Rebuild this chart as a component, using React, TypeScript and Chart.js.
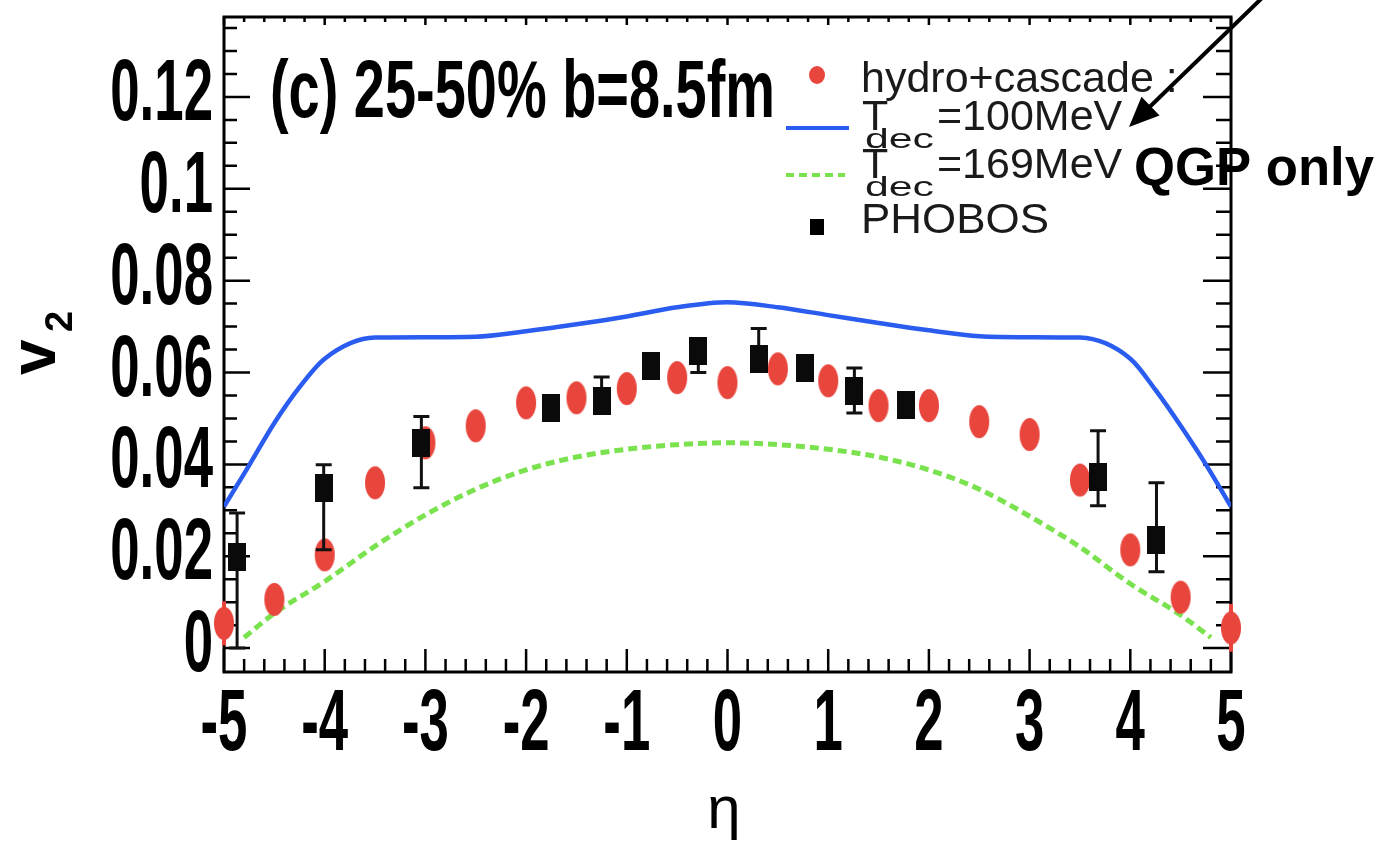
import React, { useEffect, useRef } from 'react';
import { Chart, registerables } from 'chart.js';

Chart.register(...registerables);

// ---------- data ----------
const etaTdec100 = [-5, -4.75, -4.5, -4.25, -4, -3.5, -3, -2.5, -2, -1.5, -1, -0.5, 0, 0.5, 1, 1.5, 2, 2.5, 3, 3.5, 4, 4.25, 4.5, 4.75, 5];
const v2Tdec100 = [0.0308, 0.0398, 0.0490, 0.0568, 0.0630, 0.0676, 0.0677, 0.0678, 0.0690, 0.0705, 0.0722, 0.0742, 0.0753, 0.0742, 0.0725, 0.0708, 0.0692, 0.0679, 0.0677, 0.0676, 0.0630, 0.0562, 0.0484, 0.0400, 0.0308];

const etaTdec169 = [-4.8, -4.5, -4, -3.5, -3, -2.5, -2, -1.5, -1, -0.5, 0, 0.5, 1, 1.5, 2, 2.5, 3, 3.5, 4, 4.5, 4.8];
const v2Tdec169 = [0.0023, 0.0076, 0.0145, 0.0222, 0.0290, 0.0346, 0.0388, 0.0416, 0.0433, 0.0443, 0.0447, 0.0443, 0.0433, 0.0416, 0.0388, 0.0346, 0.0287, 0.0220, 0.0140, 0.0072, 0.0023];

const etaHydro = [-5, -4.5, -4, -3.5, -3, -2.5, -2, -1.5, -1, -0.5, 0, 0.5, 1, 1.5, 2, 2.5, 3, 3.5, 4, 4.5, 5];
const v2Hydro = [0.0054, 0.0106, 0.0203, 0.0360, 0.0447, 0.0484, 0.0534, 0.0545, 0.0565, 0.0589, 0.0578, 0.0608, 0.0582, 0.0528, 0.0528, 0.0493, 0.0465, 0.0366, 0.0214, 0.0111, 0.0044];
const v2HydroErr = [0.0048, 0, 0, 0, 0, 0, 0, 0, 0, 0, 0, 0, 0, 0, 0, 0, 0, 0, 0, 0, 0.0052];

const etaPhobos = [-4.87, -4.01, -3.04, -1.75, -1.25, -0.755, -0.29, 0.31, 0.765, 1.26, 1.77, 3.68, 4.26];
const v2Phobos = [0.0199, 0.0349, 0.0447, 0.0523, 0.0537, 0.0614, 0.0647, 0.0630, 0.0610, 0.0560, 0.0530, 0.0373, 0.0236];
const v2PhobosHigh = [0.0294, 0.0399, 0.0504, 0.0523, 0.0590, 0.0614, 0.0647, 0.0696, 0.0610, 0.0610, 0.0530, 0.0473, 0.0360];
const v2PhobosLow = [0.0000, 0.0214, 0.0349, 0.0523, 0.0537, 0.0614, 0.0600, 0.0630, 0.0610, 0.0512, 0.0530, 0.0310, 0.0166];

const xTickValues = [-5, -4, -3, -2, -1, 0, 1, 2, 3, 4, 5];
const yTickValues = [0, 0.02, 0.04, 0.06, 0.08, 0.1, 0.12];

const X_MIN = -5;
const X_MAX = 5;
const Y_MIN = -0.0052;
const Y_MAX = 0.1374;

const RED = '#e8453c';
const BLUE = '#2a5cf0';
const GREEN = '#7be24f';
const SANS = "'Liberation Sans', Arial, Helvetica, sans-serif";
const TICK_FONT = `bold 88px ${SANS}`;
const TICK_SQUEEZE = 0.6;

function makeEllipse(rx: number, ry: number, color: string) {
  const c = document.createElement('canvas');
  c.width = Math.ceil(rx * 2 + 2);
  c.height = Math.ceil(ry * 2 + 2);
  const g = c.getContext('2d')!;
  g.fillStyle = color;
  g.beginPath();
  g.ellipse(c.width / 2, c.height / 2, rx, ry, 0, 0, Math.PI * 2);
  g.fill();
  return c;
}

function makeRect(w: number, h: number, color: string) {
  const c = document.createElement('canvas');
  c.width = w;
  c.height = h;
  const g = c.getContext('2d')!;
  g.fillStyle = color;
  g.fillRect(0, 0, w, h);
  return c;
}

function drawFitted(ctx: CanvasRenderingContext2D, text: string, x: number, y: number, font: string, width?: number) {
  ctx.save();
  ctx.font = font;
  ctx.textAlign = 'left';
  ctx.textBaseline = 'alphabetic';
  const w = ctx.measureText(text).width;
  ctx.translate(x, y);
  if (width) ctx.scale(width / w, 1);
  ctx.fillText(text, 0, 0);
  ctx.restore();
}

// condensed text, aligned 'right' or 'center' at x
function drawSqueezed(ctx: CanvasRenderingContext2D, text: string, x: number, y: number, align: 'right' | 'center') {
  ctx.save();
  ctx.font = TICK_FONT;
  ctx.textBaseline = 'alphabetic';
  ctx.textAlign = align;
  ctx.translate(x, y);
  ctx.scale(TICK_SQUEEZE, 1);
  ctx.fillText(text, 0, 0);
  ctx.restore();
}

const overlayPlugin = {
  id: 'rootStyleOverlay',
  beforeDatasetsDraw(chart: any) {
    const { ctx, chartArea: a, scales } = chart;
    const x = scales.x;
    const y = scales.y;
    ctx.save();
    ctx.strokeStyle = '#000';
    ctx.lineWidth = 3;
    ctx.strokeRect(a.left, a.top, a.right - a.left, a.bottom - a.top);
    ctx.lineWidth = 2.5;
    ctx.beginPath();
    for (let i = 0; i <= 50; i++) {
      const v = X_MIN + i * 0.2;
      const major = i % 5 === 0;
      const px = x.getPixelForValue(v);
      const lb = major ? 23 : 13;
      const lt = major ? 8 : 5;
      ctx.moveTo(px, a.bottom);
      ctx.lineTo(px, a.bottom - lb);
      ctx.moveTo(px, a.top);
      ctx.lineTo(px, a.top + lt);
    }
    for (let i = 0; i <= 27; i++) {
      const v = i * 0.005;
      if (v > Y_MAX) break;
      const major = i % 4 === 0;
      const py = y.getPixelForValue(v);
      const ll = major ? 26 : 13;
      const lr = major ? 28 : 15;
      ctx.moveTo(a.left, py);
      ctx.lineTo(a.left + ll, py);
      ctx.moveTo(a.right, py);
      ctx.lineTo(a.right - lr, py);
    }
    ctx.stroke();

    // tick labels from the library's own ticks, drawn condensed
    ctx.fillStyle = '#000';
    for (const t of y.ticks) {
      const py = y.getPixelForValue(t.value);
      drawSqueezed(ctx, String(t.label), a.left - 11, py + 23, 'right');
    }
    for (const t of x.ticks) {
      const px = x.getPixelForValue(t.value);
      drawSqueezed(ctx, String(t.label), px, 750, 'center');
    }
    ctx.restore();
  },
  beforeDatasetDraw(chart: any, args: any) {
    const { ctx } = chart;
    const x = chart.scales.x;
    const y = chart.scales.y;
    const ds = chart.data.datasets[args.index];
    if (ds.label === 'PHOBOS') {
      ctx.save();
      ctx.strokeStyle = '#111';
      ctx.lineWidth = 3;
      ctx.beginPath();
      for (let i = 0; i < etaPhobos.length; i++) {
        const px = x.getPixelForValue(etaPhobos[i]);
        const ph = y.getPixelForValue(v2PhobosHigh[i]);
        const pl = y.getPixelForValue(v2PhobosLow[i]);
        ctx.moveTo(px, ph);
        ctx.lineTo(px, pl);
        ctx.moveTo(px - 8, ph);
        ctx.lineTo(px + 8, ph);
        ctx.moveTo(px - 8, pl);
        ctx.lineTo(px + 8, pl);
      }
      ctx.stroke();
      ctx.restore();
    }
    if (ds.label === 'hydro+cascade') {
      ctx.save();
      ctx.strokeStyle = RED;
      ctx.lineWidth = 4;
      ctx.beginPath();
      for (let i = 0; i < etaHydro.length; i++) {
        if (!v2HydroErr[i]) continue;
        const px = x.getPixelForValue(etaHydro[i]);
        ctx.moveTo(px, y.getPixelForValue(v2Hydro[i] + v2HydroErr[i]));
        ctx.lineTo(px, y.getPixelForValue(v2Hydro[i] - v2HydroErr[i]));
      }
      ctx.stroke();
      ctx.restore();
    }
  },
  afterDraw(chart: any) {
    const { ctx } = chart;
    ctx.save();
    ctx.fillStyle = '#000';

    drawFitted(ctx, '(c) 25-50% b=8.5fm', 270, 117, `bold 82px ${SANS}`, 505);

    // legend
    ctx.fillStyle = RED;
    ctx.beginPath();
    ctx.ellipse(817, 75, 8, 9, 0, 0, Math.PI * 2);
    ctx.fill();
    ctx.fillStyle = '#1a1a1a';
    drawFitted(ctx, 'hydro+cascade :', 861, 92, `43px ${SANS}`);

    ctx.strokeStyle = BLUE;
    ctx.lineWidth = 4;
    ctx.beginPath();
    ctx.moveTo(786, 128);
    ctx.lineTo(849, 128);
    ctx.stroke();
    drawFitted(ctx, 'T', 862, 130, `43px ${SANS}`);
    drawFitted(ctx, 'dec', 865, 148, `27px ${SANS}`, 69);
    drawFitted(ctx, '=100MeV', 937, 130, `43px ${SANS}`);

    ctx.strokeStyle = GREEN;
    ctx.lineWidth = 4;
    ctx.setLineDash([8, 5]);
    ctx.beginPath();
    ctx.moveTo(786, 175);
    ctx.lineTo(845, 175);
    ctx.stroke();
    ctx.setLineDash([]);
    drawFitted(ctx, 'T', 862, 178, `43px ${SANS}`);
    drawFitted(ctx, 'dec', 865, 196, `27px ${SANS}`, 69);
    drawFitted(ctx, '=169MeV', 937, 178, `43px ${SANS}`);

    ctx.fillStyle = '#000';
    ctx.fillRect(810, 219, 14, 16);
    ctx.fillStyle = '#1a1a1a';
    drawFitted(ctx, 'PHOBOS', 861, 233, `43px ${SANS}`, 188);

    // y-axis title v_2 (rotated)
    ctx.fillStyle = '#000';
    ctx.save();
    ctx.translate(55, 375);
    ctx.rotate(-Math.PI / 2);
    ctx.font = `bold 64px ${SANS}`;
    ctx.textAlign = 'left';
    ctx.textBaseline = 'alphabetic';
    ctx.fillText('v', 0, 0);
    ctx.font = `bold 38px ${SANS}`;
    ctx.fillText('2', 43, 17);
    ctx.restore();

    // x-axis title
    ctx.font = `60px ${SANS}`;
    ctx.textAlign = 'center';
    ctx.textBaseline = 'alphabetic';
    ctx.fillText('η', 724, 828);

    // arrow + QGP only
    const x0 = 1262, y0 = -2, x1 = 1129, y1 = 127;
    const dx = x1 - x0, dy = y1 - y0;
    const len = Math.hypot(dx, dy);
    const ux = dx / len, uy = dy / len;
    const hl = 30, hw = 13;
    ctx.strokeStyle = '#000';
    ctx.lineWidth = 4;
    ctx.beginPath();
    ctx.moveTo(x0, y0);
    ctx.lineTo(x1 - ux * hl * 0.8, y1 - uy * hl * 0.8);
    ctx.stroke();
    ctx.beginPath();
    ctx.moveTo(x1, y1);
    ctx.lineTo(x1 - ux * hl - uy * hw, y1 - uy * hl + ux * hw);
    ctx.lineTo(x1 - ux * hl + uy * hw, y1 - uy * hl - ux * hw);
    ctx.closePath();
    ctx.fillStyle = '#000';
    ctx.fill();
    drawFitted(ctx, 'QGP only', 1134, 185, `bold 53px ${SANS}`, 240);

    ctx.restore();
  },
};

export default function App() {
  const canvasRef = useRef<HTMLCanvasElement | null>(null);

  useEffect(() => {
    document.body.style.margin = '0';
    const canvas = canvasRef.current;
    if (!canvas) return;

    const redDot = makeEllipse(10, 16.5, RED);
    const blackSq = makeRect(18, 28, '#0a0a0a');

    const chart = new Chart(canvas, {
      type: 'scatter',
      data: {
        datasets: [
          {
            label: 'PHOBOS',
            data: etaPhobos.map((e, i) => ({ x: e, y: v2Phobos[i] })),
            pointStyle: blackSq as any,
            pointRadius: 10,
            backgroundColor: '#000',
            borderColor: '#000',
            showLine: false,
            clip: false as any,
          },
          {
            label: 'hydro+cascade',
            data: etaHydro.map((e, i) => ({ x: e, y: v2Hydro[i] })),
            pointStyle: redDot as any,
            pointRadius: 10,
            backgroundColor: RED,
            borderColor: RED,
            showLine: false,
            clip: false as any,
          },
          {
            label: 'Tdec=100MeV',
            data: etaTdec100.map((e, i) => ({ x: e, y: v2Tdec100[i] })),
            showLine: true,
            borderColor: BLUE,
            backgroundColor: BLUE,
            borderWidth: 4.5,
            pointRadius: 0,
            cubicInterpolationMode: 'monotone',
          },
          {
            label: 'Tdec=169MeV',
            data: etaTdec169.map((e, i) => ({ x: e, y: v2Tdec169[i] })),
            showLine: true,
            borderColor: GREEN,
            backgroundColor: GREEN,
            borderWidth: 5,
            borderDash: [9, 5],
            pointRadius: 0,
            cubicInterpolationMode: 'monotone',
          },
        ],
      },
      options: {
        responsive: false,
        animation: false,
        events: [],
        layout: { padding: { top: 17, right: 147, left: 0, bottom: 0 } },
        plugins: {
          legend: { display: false },
          tooltip: { enabled: false },
          title: { display: false },
        },
        scales: {
          x: {
            type: 'linear',
            position: 'bottom',
            min: X_MIN,
            max: X_MAX,
            afterBuildTicks: (s: any) => {
              s.ticks = xTickValues.map((v) => ({ value: v }));
            },
            afterFit: (s: any) => {
              s.height = 184;
            },
            grid: { display: false, drawTicks: false },
            border: { display: false },
            ticks: {
              display: false,
              autoSkip: false,
              callback: (v: any) => String(v),
            },
          },
          y: {
            type: 'linear',
            position: 'left',
            min: Y_MIN,
            max: Y_MAX,
            afterBuildTicks: (s: any) => {
              s.ticks = yTickValues.map((v) => ({ value: v }));
            },
            afterFit: (s: any) => {
              s.width = 224;
            },
            grid: { display: false, drawTicks: false },
            border: { display: false },
            ticks: {
              display: false,
              autoSkip: false,
              callback: (v: any) => String(+Number(v).toFixed(3)),
            },
          },
        },
      },
      plugins: [overlayPlugin],
    } as any);

    return () => chart.destroy();
  }, []);

  return (
    <div style={{ position: 'absolute', left: 0, top: 0, width: 1378, height: 856, background: '#fff' }}>
      <canvas ref={canvasRef} width={1378} height={856} style={{ display: 'block' }} />
    </div>
  );
}
